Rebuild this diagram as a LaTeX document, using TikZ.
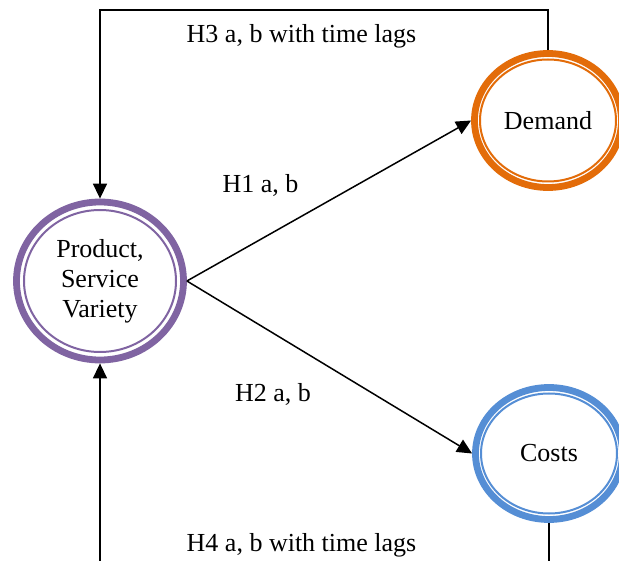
\documentclass[tikz,border=0pt]{standalone}
\usepackage{fontspec}
\setmainfont{Liberation Serif}
\usetikzlibrary{shapes.geometric,arrows.meta}
\definecolor{cpurple}{HTML}{8064A2}
\definecolor{corange}{HTML}{E36C09}
\definecolor{cblue}{HTML}{558ED5}
\tikzset{
  ring/.style={ellipse, draw=#1, line width=6.8pt, inner sep=0pt, align=center,
    font=\fontsize{26}{30}\selectfont},
  innerring/.style={draw=#1, line width=2pt},
  conn/.style={draw=black, line width=1.5pt},
  arr/.style={conn, -{Triangle[length=15pt,width=14pt]}},
  lbl/.style={font=\fontsize{26}{30}\selectfont, anchor=base, inner sep=0pt},
}
\begin{document}
\begin{tikzpicture}[x=1pt,y=-1pt]
\useasboundingbox (0,0) rectangle (619,561);
\clip (0,0) rectangle (619,561);
\fill[white] (0,0) rectangle (619,561);
% nodes
\node[ring=cpurple, minimum width=167pt, minimum height=158pt] (p) at (100,281) {Product,\\Service\\Variety};
\draw[innerring=cpurple] (p.center) ellipse [x radius=76, y radius=71];
\node[ring=corange, minimum width=147pt, minimum height=134pt] (d) at (548,120.5) {Demand};
\draw[innerring=corange] (d.center) ellipse [x radius=68, y radius=61];
\node[ring=cblue, minimum width=147pt, minimum height=132pt] (c) at (549,453.5) {Costs};
\draw[innerring=cblue] (c.center) ellipse [x radius=68, y radius=60];
% helper coordinates
\coordinate (top) at (100,10);
\coordinate (bot) at (100,562);
% connectors
\draw[arr] (p.east) -- (d.west);
\draw[arr] (p.east) -- (c.west);
\draw[arr] (d.north) |- (top) -- (p.north);
\draw[conn] (c.south) -- (c.south |- bot);
\draw[arr] (bot) -- (p.south);
% labels
\node[lbl] (h3) at (301.5,43) {H3 a, b with time lags};
\node[lbl] (h1) at (260.5,193) {H1 a, b};
\node[lbl] (h2) at (273,402) {H2 a, b};
\node[lbl] (h4) at (301.5,551) {H4 a, b with time lags};
\end{tikzpicture}
\end{document}
